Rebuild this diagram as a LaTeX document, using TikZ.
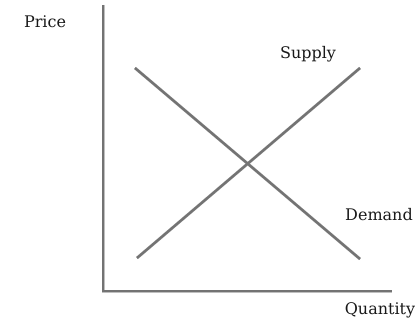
\documentclass[tikz,border=0pt]{standalone}
\usepackage{fontspec}
\setmainfont{DejaVu Serif}
\begin{document}
\begin{tikzpicture}[x=1pt,y=-1pt,
  lbl/.style={font=\fontsize{16}{19}\selectfont, text=black!90, inner sep=0pt},
  shadowline/.style={draw=black!25, line width=3pt},
  mainline/.style={draw=black!55, line width=2.4pt}]
\useasboundingbox (0,0) rectangle (419,323);
\coordinate (top) at (103,5);
\coordinate (origin) at (103,291);
\coordinate (right) at (392,291);
\coordinate (s1) at (137,258);
\coordinate (s2) at (360,68);
\coordinate (d1) at (135,68);
\coordinate (d2) at (360,259);
\begin{scope}[shift={(1,1)}]
\draw[shadowline] (top) -- (origin) -- (right);
\draw[shadowline] (s1) -- (s2);
\draw[shadowline] (d1) -- (d2);
\end{scope}
\draw[mainline] (top) -- (origin) -- (right);
\draw[mainline] (s1) -- (s2);
\draw[mainline] (d1) -- (d2);
\node[lbl] (price) at (45,22) {Price};
\node[lbl] (supply) at (308,54) {Supply};
\node[lbl] (demand) at (379,215) {Demand};
\node[lbl] (quantity) at (380,310) {Quantity};
\end{tikzpicture}
\end{document}
